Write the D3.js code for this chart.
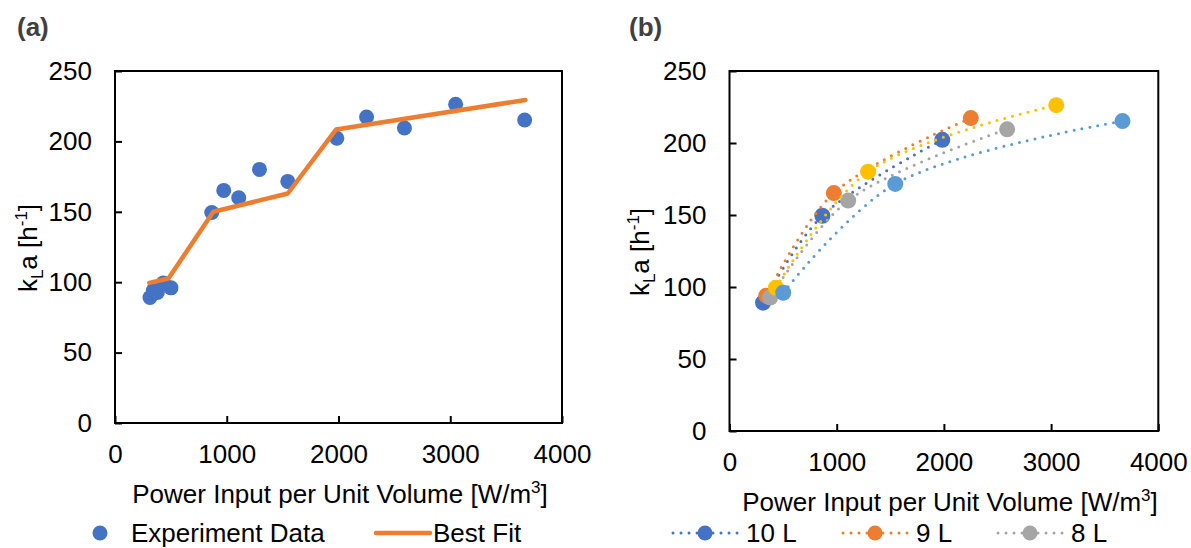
<!DOCTYPE html>
<html>
<head>
<meta charset="utf-8">
<script src="https://cdn.jsdelivr.net/npm/d3@7"></script>
<style>
  body { margin: 0; background: #fff; }
  svg { display: block; }
  text { font-family: "Liberation Sans", Arial, sans-serif; fill: #000; }
</style>
</head>
<body>
<svg id="chart" width="1191" height="548"></svg>
<script>
// Data
var seriesNames = ["10 L", "9 L", "8 L", "7 L", "6 L"];
var seriesColors = ["#4472C4", "#ED7D31", "#A5A5A5", "#FFC000", "#5B9BD5"];
var powerInput = [
  [313, 866, 1985],
  [343, 973, 2251],
  [379, 1107, 2590],
  [433, 1293, 3048],
  [501, 1546, 3666]
];
var klaValues = [
  [89.1, 149.5, 202.2],
  [94.0, 165.2, 217.3],
  [92.7, 160.0, 209.5],
  [99.5, 180.1, 226.3],
  [96.0, 171.6, 215.2]
];
// Best fit (piecewise) line for panel (a)
var fitX = [307, 478, 880, 1546, 1979, 3672];
var fitY = [99.5, 102.6, 150, 163, 208.5, 229.4];

var xTicks = [0, 1000, 2000, 3000, 4000];
var yTicks = [0, 50, 100, 150, 200, 250];

var fs = 26; // font size used by ticks, titles, legends
var legendY = 533; // centre line of the legend row
var svg = d3.select("#chart");

// every measured point, used for "Experiment Data"
var allPoints = [];
powerInput.forEach(function(xs, i) {
  xs.forEach(function(x, j) { allPoints.push({x: x, y: klaValues[i][j]}); });
});

function drawFrame(p) {
  var x = d3.scaleLinear().domain([0, 4000]).range([p.left, p.right]);
  var y = d3.scaleLinear().domain([0, 250]).range([p.bottom, p.top]);

  // x axis, ticks pointing inside
  var gx = svg.append("g")
    .attr("transform", "translate(0," + p.bottom + ")")
    .call(d3.axisBottom(x).tickValues(xTicks).tickFormat(d3.format("d"))
      .tickSizeInner(-7).tickSizeOuter(0).tickPadding(22));
  gx.select(".domain").remove();
  gx.selectAll("line").attr("stroke", "#000").attr("stroke-width", 2);
  gx.selectAll("text").attr("font-size", fs).attr("fill", "#000")
    .attr("font-family", "Liberation Sans, Arial, sans-serif");

  // y axis
  var gy = svg.append("g")
    .attr("transform", "translate(" + p.left + ",0)")
    .call(d3.axisLeft(y).tickValues(yTicks).tickFormat(d3.format("d"))
      .tickSizeInner(-7).tickSizeOuter(0).tickPadding(23));
  gy.select(".domain").remove();
  gy.selectAll("line").attr("stroke", "#000").attr("stroke-width", 2);
  gy.selectAll("text").attr("font-size", fs).attr("fill", "#000")
    .attr("font-family", "Liberation Sans, Arial, sans-serif");

  // plot box
  svg.append("rect")
    .attr("x", p.left).attr("y", p.top)
    .attr("width", p.right - p.left).attr("height", p.bottom - p.top)
    .attr("fill", "none").attr("stroke", "#000").attr("stroke-width", 2);

  // x title
  var xt = svg.append("text")
    .attr("x", p.xTitleX).attr("y", p.bottom + 80)
    .attr("text-anchor", "middle").attr("font-size", fs);
  xt.append("tspan").text("Power Input per Unit Volume [W/m");
  xt.append("tspan").attr("dy", -10).attr("font-size", 17).text("3");
  xt.append("tspan").attr("dy", 10).text("]");

  // y title
  var yt = svg.append("text")
    .attr("transform", "translate(" + p.yTitleX + "," + ((p.top + p.bottom) / 2 + 1) + ") rotate(-90)")
    .attr("text-anchor", "middle").attr("font-size", fs);
  yt.append("tspan").text("k");
  yt.append("tspan").attr("dy", 6).attr("font-size", 17).text("L");
  yt.append("tspan").attr("dy", -6).text("a [h");
  yt.append("tspan").attr("dy", -10).attr("font-size", 17).text("-1");
  yt.append("tspan").attr("dy", 10).text("]");

  // panel label
  svg.append("text")
    .attr("x", p.labelX).attr("y", 36)
    .attr("font-size", 26).attr("font-weight", "bold")
    .style("fill", "#404040")
    .text(p.label);

  return {x: x, y: y};
}

// ---------- Panel (a) ----------
var pa = {left: 115, right: 562, top: 71, bottom: 423, xTitleX: 340, yTitleX: 37, labelX: 17, label: "(a)"};
var sa = drawFrame(pa);

svg.append("g").selectAll("circle")
  .data(allPoints)
  .enter().append("circle")
  .attr("cx", function(d) { return sa.x(d.x); })
  .attr("cy", function(d) { return sa.y(d.y); })
  .attr("r", 7.5)
  .attr("fill", "#4472C4");

var fitLine = d3.line()
  .x(function(d, i) { return sa.x(fitX[i]); })
  .y(function(d, i) { return sa.y(fitY[i]); });

svg.append("path")
  .datum(fitX)
  .attr("d", fitLine)
  .attr("fill", "none")
  .attr("stroke", "#ED7D31")
  .attr("stroke-width", 4.5)
  .attr("stroke-linecap", "round")
  .attr("stroke-linejoin", "round");

// legend (a)
svg.append("circle").attr("cx", 100).attr("cy", legendY).attr("r", 7.5).attr("fill", "#4472C4");
svg.append("text").attr("x", 131).attr("y", legendY + 9).attr("font-size", fs).text("Experiment Data");
svg.append("line").attr("x1", 376).attr("x2", 430).attr("y1", legendY).attr("y2", legendY)
  .attr("stroke", "#ED7D31").attr("stroke-width", 4.5).attr("stroke-linecap", "round");
svg.append("text").attr("x", 433).attr("y", legendY + 9).attr("font-size", fs).text("Best Fit");

// ---------- Panel (b) ----------
var pb = {left: 729.5, right: 1158.3, top: 71, bottom: 431, xTitleX: 950, yTitleX: 649, labelX: 629, label: "(b)"};
var sb = drawFrame(pb);

var smooth = d3.line()
  .x(function(d) { return sb.x(d[0]); })
  .y(function(d) { return sb.y(d[1]); })
  .curve(d3.curveCatmullRom.alpha(0.5));

seriesNames.forEach(function(name, i) {
  var pts = powerInput[i].map(function(v, j) { return [v, klaValues[i][j]]; });
  var g = svg.append("g");
  g.append("path")
    .datum(pts)
    .attr("d", smooth)
    .attr("fill", "none")
    .attr("stroke", seriesColors[i])
    .attr("stroke-width", 3)
    .attr("stroke-linecap", "round")
    .attr("stroke-dasharray", "0 8");
  g.selectAll("circle")
    .data(pts)
    .enter().append("circle")
    .attr("cx", function(d) { return sb.x(d[0]); })
    .attr("cy", function(d) { return sb.y(d[1]); })
    .attr("r", 8)
    .attr("fill", seriesColors[i]);
});

// legend (b): only the first row is inside the picture
var legendX = [673, 843, 998];
legendX.forEach(function(lx, i) {
  var g = svg.append("g");
  g.append("line")
    .attr("x1", lx).attr("x2", lx + 65).attr("y1", legendY).attr("y2", legendY)
    .attr("stroke", seriesColors[i]).attr("stroke-width", 3)
    .attr("stroke-linecap", "round").attr("stroke-dasharray", "0 8");
  g.append("circle").attr("cx", lx + 32).attr("cy", legendY).attr("r", 7.5).attr("fill", seriesColors[i]);
  g.append("text").attr("x", lx + 73).attr("y", legendY + 9).attr("font-size", fs).text(seriesNames[i]);
});
</script>
</body>
</html>
